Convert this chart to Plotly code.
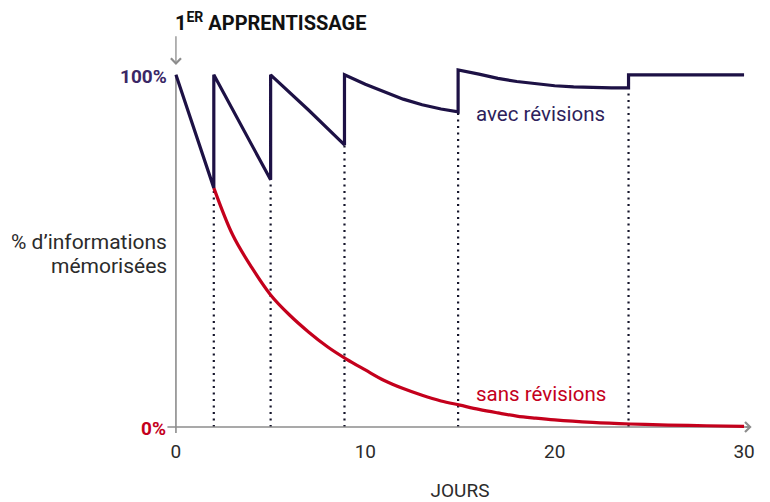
import plotly.graph_objects as go

# ---- data ----
days_ticks = [0, 10, 20, 30]
tick_labels = ["0", "10", "20", "30"]

# avec révisions (duplicate x values = review jumps)
avec_days = [0, 2, 2, 3.5, 5, 5, 7, 8.9, 8.9, 10, 11, 12, 13, 14, 14.9,
             14.9, 16, 17, 18, 19, 20, 21, 22, 23, 23.9, 23.9, 30]
avec_pct = [100, 67.9, 100, 85.0, 70.2, 100, 90.0, 80.1, 100, 97.3, 95.1, 93.1, 91.5, 90.3, 89.5,
            101.4, 100.2, 99.0, 98.1, 97.4, 96.9, 96.6, 96.4, 96.3, 96.3, 100, 100]

# sans révisions
sans_days = [2, 3, 4, 5, 6, 7, 8, 9, 10, 11, 12, 13, 14, 15, 16, 17, 18, 19, 20, 22, 24, 26, 28, 30]
sans_pct = [67.9, 54.5, 45.3, 37.5, 31.8, 27.0, 22.8, 19.3, 16.2, 13.2, 10.9, 9.0, 7.4, 6.2,
            5.0, 4.0, 3.1, 2.5, 2.0, 1.3, 0.85, 0.55, 0.35, 0.2]

# review moments and retention just before each review
review_days = [2, 5, 8.9, 14.9, 23.9]
review_pct = [67.9, 70.2, 80.1, 89.5, 96.3]

NAVY = "#1d1145"
RED = "#c4001c"
AXIS = "#8c8c8c"
TXT = "#2b2b2b"

fig = go.Figure()

# dotted review lines
for d, p in zip(review_days, review_pct):
    fig.add_shape(type="line", xref="x", yref="y", x0=d, x1=d, y0=0, y1=p,
                  line=dict(color="#14142a", width=2.2, dash="2px,4.5px"), layer="below")

# axes lines
fig.add_shape(type="line", xref="x", yref="y", x0=0, x1=0, y0=-1.7, y1=100,
              line=dict(color=AXIS, width=1.6), layer="below")
fig.add_shape(type="line", xref="x", yref="y", x0=-0.45, x1=30.3, y0=0, y1=0,
              line=dict(color=AXIS, width=1.6), layer="below")

fig.add_trace(go.Scatter(x=sans_days, y=sans_pct, mode="lines",
                         line=dict(color=RED, width=3.2, shape="spline", smoothing=1),
                         hoverinfo="skip", showlegend=False, cliponaxis=False))
fig.add_trace(go.Scatter(x=avec_days, y=avec_pct, mode="lines",
                         line=dict(color=NAVY, width=3.2),
                         hoverinfo="skip", showlegend=False, cliponaxis=False))

# arrow heads
fig.add_annotation(x=30.4, y=0, ax=30.0, ay=0, xref="x", yref="y", axref="x", ayref="y",
                   text="", showarrow=True, arrowhead=4, arrowsize=1.5, arrowwidth=1.3,
                   arrowcolor=AXIS)
fig.add_annotation(x=0, y=102.8, ax=0, ay=111.4, xref="x", yref="y", axref="x", ayref="y",
                   text="", showarrow=True, arrowhead=4, arrowsize=1.5, arrowwidth=1.3,
                   arrowcolor=AXIS)

# texts
fig.add_annotation(x=-0.17, y=115, xref="x", yref="y", xanchor="left", yanchor="middle",
                   text="<b>1<sup>ER</sup> APPRENTISSAGE</b>", showarrow=False,
                   font=dict(family="Roboto", size=20, color="#111111"))
fig.add_annotation(x=0, y=100, xref="x", yref="y", xanchor="right", yanchor="middle",
                   xshift=-7, yshift=-2, text="<b>100%</b>", showarrow=False,
                   font=dict(family="Roboto", size=19, color="#3a2766"))
fig.add_annotation(x=0, y=0, xref="x", yref="y", xanchor="right", yanchor="middle",
                   xshift=-8, yshift=-2, text="<b>0%</b>", showarrow=False,
                   font=dict(family="Roboto", size=19, color=RED))
fig.add_annotation(x=0, y=52.4, xref="x", yref="y", xanchor="right", yanchor="middle",
                   xshift=-7, text="% d’informations",
                   showarrow=False, font=dict(family="Roboto", size=21, color=TXT))
fig.add_annotation(x=0, y=45.8, xref="x", yref="y", xanchor="right", yanchor="middle",
                   xshift=-7, text="mémorisées",
                   showarrow=False, font=dict(family="Roboto", size=21, color=TXT))
fig.add_annotation(x=15.75, y=88.9, xref="x", yref="y", xanchor="left", yanchor="middle",
                   text="avec révisions", showarrow=False,
                   font=dict(family="Roboto", size=20.5, color="#2e1f5c"))
fig.add_annotation(x=15.75, y=9.4, xref="x", yref="y", xanchor="left", yanchor="middle",
                   text="sans révisions", showarrow=False,
                   font=dict(family="Roboto", size=20.5, color=RED))

fig.update_layout(
    width=770, height=502,
    margin=dict(l=157, r=7, t=22, b=64),
    paper_bgcolor="white", plot_bgcolor="white",
    xaxis=dict(range=[-1, 31], showgrid=False, zeroline=False, showline=False,
               automargin=False,
               tickvals=days_ticks, ticktext=tick_labels, ticks="",
               tickfont=dict(family="Roboto", size=19, color=TXT),
               title=dict(text="JOURS", standoff=28,
                          font=dict(family="Roboto", size=19, color=TXT))),
    yaxis=dict(range=[-3.125, 115], visible=False, automargin=False),
)

fig.write_html("out.html", config={"displayModeBar": False},
               post_script="document.body.style.margin='0';document.body.style.padding='0';"
                           "document.documentElement.style.overflow='hidden';")
